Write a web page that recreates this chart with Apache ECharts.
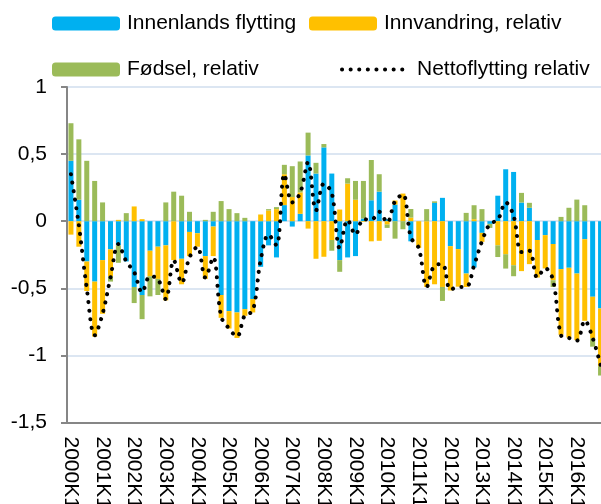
<!DOCTYPE html>
<html>
<head>
<meta charset="utf-8">
<script src="https://cdn.jsdelivr.net/npm/echarts@6/dist/echarts.min.js"></script>
<style>
  html, body { margin: 0; padding: 0; background: #fff; }
  #chart { width: 601px; height: 504px; }
</style>
</head>
<body>
<div id="chart"></div>
<script>
// kvartal 2000K1 - 2016K4
const years = [2000, 2001, 2002, 2003, 2004, 2005, 2006, 2007, 2008,
  2009, 2010, 2011, 2012, 2013, 2014, 2015, 2016]
const quarters = ['K1', 'K2', 'K3', 'K4']
const categories = years.flatMap(y => quarters.map(q => y + q))

const innenlands = [
  0.45, 0.16, -0.30, -0.45,
  -0.29, -0.21, -0.18, -0.30,
  -0.49, -0.55, -0.22, -0.19,
  -0.18, 0, -0.28, -0.08,
  -0.09, -0.26, -0.04, -0.55,
  -0.67, -0.68, -0.655, -0.58,
  -0.34, -0.18, -0.27, 0.12,
  -0.04, 0.055, 0.49, 0.355,
  0.55, 0.355, -0.29, -0.27,
  -0.26, 0.02, 0.156, 0.22,
  0.015, 0.124, 0, -0.15,
  0, 0, 0.136, 0.174,
  -0.186, -0.208, -0.39, -0.345,
  -0.087, -0.02, 0.19, 0.387,
  0.367, 0.139, 0.10, -0.14,
  -0.104, -0.17, -0.357, -0.347,
  -0.39, -0.134, -0.563, -0.65,
]
const innvandring = [
  -0.10, -0.19, -0.22, -0.41,
  -0.40, -0.20, 0.01, 0,
  0.11, 0.015, -0.19, -0.24,
  -0.41, -0.29, -0.19, -0.18,
  -0.10, -0.17, -0.22, -0.17,
  -0.13, -0.19, -0.05, -0.10,
  0.05, 0.08, 0.09, 0.23,
  0.18, 0.16, -0.055, -0.28,
  -0.265, -0.14, 0.087, 0.28,
  0.16, -0.005, -0.15, -0.146,
  -0.025, 0.03, 0.206, 0.027,
  -0.20, -0.49, -0.47, -0.49,
  -0.33, -0.28, -0.10, 0.015,
  -0.067, 0, -0.18, -0.246,
  -0.328, -0.372, -0.32, -0.28,
  -0.248, -0.27, -0.49, -0.52,
  -0.496, -0.608, -0.31, -0.43,
]
const fodsel = [
  0.28, 0.45, 0.45, 0.30,
  0.14, -0.04, -0.13, 0.06,
  -0.12, -0.18, -0.15, -0.12,
  0.14, 0.22, 0.19, 0.07,
  0, 0.01, 0.07, 0.15,
  0.09, 0.06, 0.025, 0,
  0, 0.01, 0.015, 0.07,
  0.23, 0.23, 0.17, 0.08,
  0.025, -0.08, -0.087, 0.04,
  0.14, 0.28, 0.30, 0.13,
  -0.025, -0.13, -0.06, 0.064,
  0, 0.09, 0.012, -0.104,
  0, 0, 0.062, 0.104,
  0.09, -0.03, -0.087, -0.107,
  -0.082, 0.072, 0.037, 0,
  0, -0.05, 0.032, 0.10,
  0.161, 0.119, -0.062, -0.07,
]
const netto = [
  0.35, -0.03, -0.50, -0.85,
  -0.69, -0.42, -0.17, -0.30,
  -0.38, -0.53, -0.41, -0.43,
  -0.58, -0.29, -0.46, -0.27,
  -0.19, -0.42, -0.27, -0.71,
  -0.80, -0.86, -0.70, -0.67,
  -0.29, -0.10, -0.18, 0.35,
  0.14, 0.21, 0.44, 0.08,
  0.28, 0.21, -0.20, 0.01,
  -0.10, 0.015, 0.01, 0.07,
  -0.01, 0.15, 0.20, -0.12,
  -0.20, -0.49, -0.33, -0.32,
  -0.51, -0.49, -0.49, -0.33,
  -0.15, -0.02, 0.01, 0.14,
  0.04, -0.23, -0.22, -0.42,
  -0.35, -0.44, -0.85, -0.87,
  -0.89, -0.74, -0.87, -1.07,
]

const font = 'Liberation Sans, Arial, sans-serif'
const dotted = { color: '#000', width: 4, type: [0.1, 8.5], cap: 'round' }
const legendBase = {
  itemWidth: 68,
  itemHeight: 14,
  itemGap: 0,
  padding: 0,
  selectedMode: false,
  textStyle: { fontSize: 21, color: '#000', fontFamily: font, padding: [0, 0, 0, 2] },
}

const chart = echarts.init(document.getElementById('chart'))
const option = {
  animation: false,
  legend: [
    { ...legendBase, data: ['Innenlands flytting'], left: 52, top: 13 },
    { ...legendBase, data: ['Innvandring, relativ'], left: 309, top: 13 },
    { ...legendBase, data: ['Fødsel, relativ'], left: 52, top: 59 },
    {
      ...legendBase,
      data: ['Nettoflytting relativ'],
      left: 340,
      top: 59,
      itemStyle: { opacity: 0 },
      lineStyle: dotted,
    },
  ],
  grid: {
    left: 67,
    right: -3.5,
    top: 87,
    bottom: 81.5,
    containLabel: false,
    outerBoundsMode: 'none',
  },
  xAxis: {
    type: 'category',
    data: categories,
    axisLine: { onZero: false, lineStyle: { color: '#868686', width: 2 } },
    axisTick: { show: false },
    axisLabel: {
      interval: 3,
      rotate: -90,
      margin: 14,
      fontSize: 21,
      color: '#000',
      fontFamily: font,
    },
  },
  yAxis: {
    type: 'value',
    min: -1.5,
    max: 1,
    interval: 0.5,
    axisLine: { show: true, lineStyle: { color: '#868686', width: 2 } },
    axisTick: { show: true, length: 6, lineStyle: { color: '#868686', width: 2 } },
    axisLabel: {
      margin: 20,
      fontSize: 21,
      color: '#000',
      fontFamily: font,
      formatter: v => String(v).replace('.', ','),
    },
    splitLine: { lineStyle: { color: '#DCE6F2', width: 2 } },
  },
  series: [
    {
      name: 'Innenlands flytting',
      type: 'bar',
      stack: 'total',
      barWidth: 5,
      itemStyle: { color: '#00B0F0' },
      data: innenlands,
    },
    {
      name: 'Innvandring, relativ',
      type: 'bar',
      stack: 'total',
      barWidth: 5,
      itemStyle: { color: '#FFC000' },
      data: innvandring,
    },
    {
      name: 'Fødsel, relativ',
      type: 'bar',
      stack: 'total',
      barWidth: 5,
      itemStyle: { color: '#9BBB59' },
      data: fodsel,
    },
    {
      name: 'Nettoflytting relativ',
      type: 'line',
      symbol: 'none',
      smooth: 0.35,
      z: 5,
      itemStyle: { color: '#000' },
      lineStyle: dotted,
      data: netto,
    },
  ],
}
chart.setOption(option)
</script>
</body>
</html>
